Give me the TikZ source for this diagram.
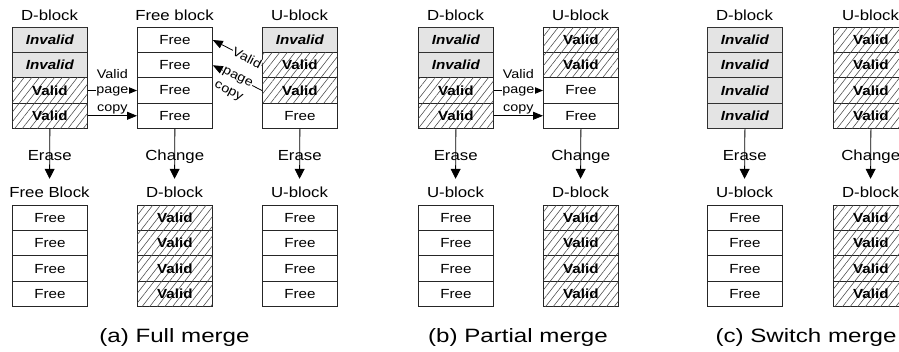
\documentclass[tikz,border=0pt]{standalone}
\usepackage{fontspec}
\setmainfont[FakeStretch=1.15]{Liberation Sans}
\newfontfamily\capfont[FakeStretch=1.25]{Liberation Sans}
\usetikzlibrary{arrows.meta,patterns.meta}

% one column of four flash pages: name, left x, top y, list of page kinds
\newcommand\pagecol[4]{%
  \foreach \kind [count=\i] in {#4} {
    \node (#1-\i) at (#2, {#3+(\i-1)*25.25}) [\kind, anchor=north west];
  }%
}

\tikzset{
  cell/.style={draw=black!85, line width=0.8pt, minimum width=75pt,
    minimum height=25.25pt, inner sep=0pt, font=\fontsize{13.2}{15}\selectfont},
  fre/.style={cell, fill=white, node contents={Free}},
  val/.style={cell, fill=white,
    postaction={pattern={Lines[angle=52,distance=6pt,line width=0.55pt]},
      pattern color=black!72},
    node contents={\bfseries Valid}},
  inv/.style={cell, fill=black!9,
    postaction={pattern={Dots[distance=2pt,radius=0.4pt]},
      pattern color=black!28},
    node contents={\bfseries\itshape Invalid}},
  blk/.style={anchor=base, inner sep=0pt, text height=12pt, text depth=0pt,
    font=\fontsize{14.6}{17}\selectfont},
  flow/.style={draw=black, line width=0.8pt,
    -{Triangle[length=10pt,width=10pt]}, shorten >=7pt},
  op/.style={pos=0.46, inner sep=0pt, text height=11.5pt, text depth=0pt,
    font=\fontsize{14.6}{17}\selectfont},
  link/.style={draw=black, line width=0.8pt,
    -{Triangle[length=10pt,width=8pt]}},
  lnk/.style={font=\fontsize{12.5}{15}\selectfont, inner sep=0.5pt},
  captext/.style={anchor=base, inner sep=0pt,
    font=\capfont\fontsize{19.3}{23}\selectfont},
}

\begin{document}
\begin{tikzpicture}[x=1pt, y=-1pt]
\path[use as bounding box, clip] (0,0) rectangle (899,352);

% ---------------- (a) full merge ----------------
\pagecol{aD}{12}{27}{inv,inv,val,val}
\pagecol{aF}{137}{27}{fre,fre,fre,fre}
\pagecol{aU}{262}{27}{inv,val,val,fre}
\node[blk] (aDt) at (49.5,21) {D-block};
\node[blk] (aFt) at (174.5,21) {Free block};
\node[blk] (aUt) at (299.5,21) {U-block};

\pagecol{aE}{12}{205}{fre,fre,fre,fre}
\pagecol{aN}{137}{205}{val,val,val,val}
\pagecol{aV}{262}{205}{fre,fre,fre,fre}
\node[blk] (aEt) at (49.5,198) {Free Block};
\node[blk] (aNt) at (174.5,198) {D-block};
\node[blk] (aVt) at (299.5,198) {U-block};

\draw[flow] (aD-4.south) -- node[op] {Erase} (aEt.north);
\draw[flow] (aF-4.south) -- node[op] {Change} (aNt.north);
\draw[flow] (aU-4.south) -- node[op] {Erase} (aVt.north);

\draw[link] (aD-3.east) --
  node[lnk, anchor=base, yshift=11.6pt] {Valid}
  node[lnk, anchor=base, yshift=-3pt, fill=white] {page} (aF-3.west);
\draw[link] (aD-4.east) --
  node[lnk, anchor=base, yshift=4pt] {copy} (aF-4.west);

% slanted copy arrows from the U-block back into the free block
\draw[link] (aU-2.west) --
  node[lnk, sloped, pos=0.3, fill=white] {Valid} (aF-1.east);
\draw[link] (aU-3.west) --
  node[lnk, sloped, pos=0.5, fill=white] {page}
  node[lnk, sloped, pos=0.5, xshift=-1.7pt, yshift=-16.6pt] {copy} (aF-2.east);

\node[captext] (capa) at (174.5,343) {(a) Full merge};

% ---------------- (b) partial merge ----------------
\pagecol{bD}{418}{27}{inv,inv,val,val}
\pagecol{bU}{543}{27}{val,val,fre,fre}
\node[blk] (bDt) at (455.5,21) {D-block};
\node[blk] (bUt) at (580.5,21) {U-block};

\pagecol{bE}{418}{205}{fre,fre,fre,fre}
\pagecol{bN}{543}{205}{val,val,val,val}
\node[blk] (bEt) at (455.5,198) {U-block};
\node[blk] (bNt) at (580.5,198) {D-block};

\draw[flow] (bD-4.south) -- node[op] {Erase} (bEt.north);
\draw[flow] (bU-4.south) -- node[op] {Change} (bNt.north);

\draw[link] (bD-3.east) --
  node[lnk, anchor=base, yshift=11.6pt] {Valid}
  node[lnk, anchor=base, yshift=-3pt, fill=white] {page} (bU-3.west);
\draw[link] (bD-4.east) --
  node[lnk, anchor=base, yshift=4pt] {copy} (bU-4.west);

\node[captext] (capb) at (518,343) {(b) Partial merge};

% ---------------- (c) switch merge ----------------
\pagecol{cD}{707}{27}{inv,inv,inv,inv}
\pagecol{cU}{833}{27}{val,val,val,val}
\node[blk] (cDt) at (744.5,21) {D-block};
\node[blk] (cUt) at (870.5,21) {U-block};

\pagecol{cE}{707}{205}{fre,fre,fre,fre}
\pagecol{cN}{833}{205}{val,val,val,val}
\node[blk] (cEt) at (744.5,198) {U-block};
\node[blk] (cNt) at (870.5,198) {D-block};

\draw[flow] (cD-4.south) -- node[op] {Erase} (cEt.north);
\draw[flow] (cU-4.south) -- node[op] {Change} (cNt.north);

\node[captext] (capc) at (806,343) {(c) Switch merge};
\end{tikzpicture}
\end{document}
